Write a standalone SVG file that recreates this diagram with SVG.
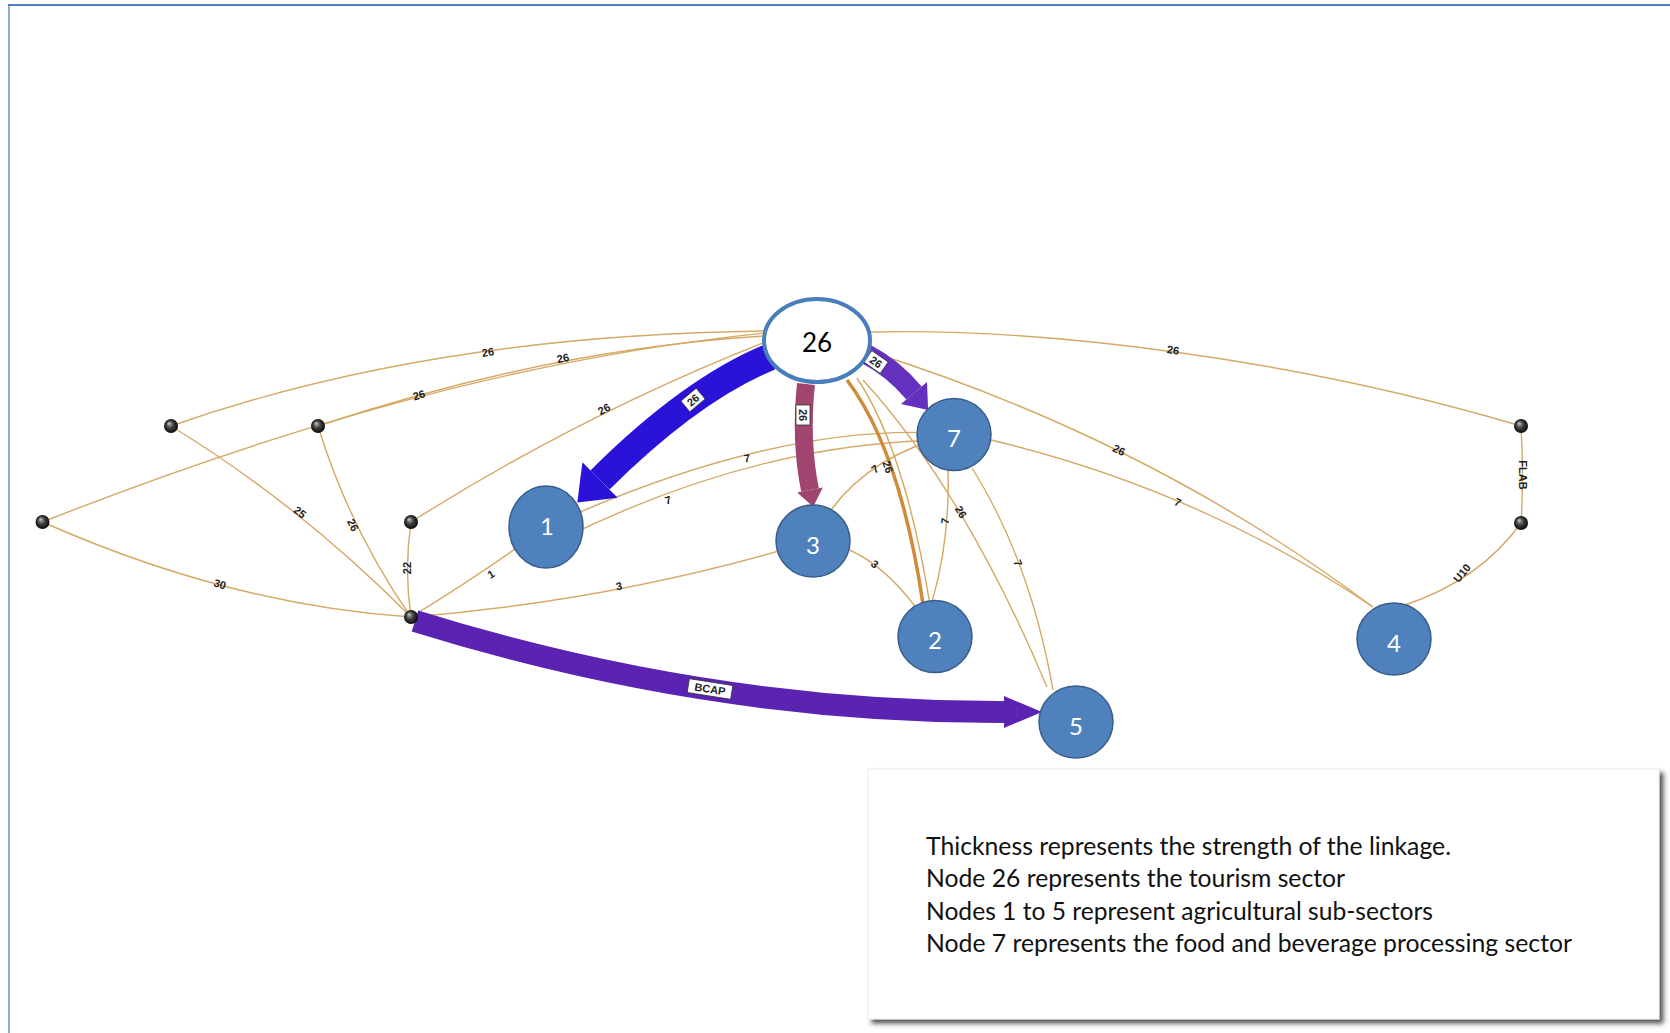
<svg xmlns="http://www.w3.org/2000/svg" width="1670" height="1033" viewBox="0 0 1670 1033">
<style>
.frame{stroke:#4F7FC2;fill:none}
.edge{fill:none;stroke:#D6A865;stroke-width:1.4}
.edge-strong{fill:none;stroke:#CF8A3A;stroke-width:3.5}
.elbl{font-family:"Liberation Sans",Arial,sans-serif;font-size:11px;font-weight:bold;fill:#222;text-anchor:middle;dominant-baseline:central}
.alblbox{fill:#fff;stroke:#333;stroke-width:0.8}
.blue{stroke:#2A12D8;fill:none}
.blue-h{fill:#2A12D8}
.maroon{stroke:#A0456F;fill:none}
.maroon-h{fill:#A0456F}
.purple{stroke:#6430BE;fill:none}
.purple-h{fill:#6430BE}
.violet{stroke:#5A23B2;fill:none}
.violet-h{fill:#5A23B2}
.node{fill:#4F81BD;stroke:#385D8A;stroke-width:1.5}
.nlbl{font-family:Lato,"Open Sans",sans-serif;font-size:24px;fill:#fff;text-anchor:middle}
.hub{fill:#fff;stroke:#4A7EBB;stroke-width:4}
.hlbl{font-family:Lato,"Open Sans",sans-serif;font-size:26px;fill:#000;text-anchor:middle}
.legend{font-family:Lato,"Open Sans",sans-serif;font-size:25px;fill:#111}
</style>
<defs>
<radialGradient id="sphere" cx="50%" cy="50%" r="55%" fx="35%" fy="30%">
<stop offset="0" stop-color="#c8c8c8"/>
<stop offset="0.45" stop-color="#444"/>
<stop offset="1" stop-color="#000"/>
</radialGradient>
<filter id="shadow" x="-5%" y="-5%" width="110%" height="115%">
<feGaussianBlur in="SourceAlpha" stdDeviation="2.5"/>
<feOffset dx="4" dy="4" result="b"/>
<feFlood flood-color="#333" flood-opacity="0.85"/>
<feComposite in2="b" operator="in"/>
<feMerge><feMergeNode/><feMergeNode in="SourceGraphic"/></feMerge>
</filter>
</defs>
<rect x="0" y="0" width="1670" height="1033" fill="#fff"/>
<g id="frame">
<line class="frame" x1="8" y1="5" x2="1670" y2="5" stroke-width="2"/>
<line class="frame" x1="9" y1="4" x2="9" y2="1033" stroke-width="1.3"/>
</g>
<g id="connectors">
<path class="edge" d="M42.5,522 Q230,605 411,617"/>
<path class="edge" d="M42.5,522 C250,440 500,360 765,333"/>
<path class="edge" d="M318,426 C450,382 600,346 765,336"/>
<path class="edge" d="M171,426 Q430,335 765,331"/>
<path class="edge" d="M411,522 Q580,415 765,342"/>
<path class="edge" d="M171,426 Q300,505 411,617"/>
<path class="edge" d="M318,426 Q350,530 411,617"/>
<path class="edge" d="M411,522 Q404,570 411,617"/>
<path class="edge" d="M411,617 Q480,575 546,527"/>
<path class="edge" d="M411,617 Q620,600 813,541"/>
<path class="edge" d="M546,527 Q780,420 954,434"/>
<path class="edge" d="M560,540 Q760,440 954,440"/>
<path class="edge" d="M813,541 Q850,460 954,434"/>
<path class="edge" d="M813,541 Q880,545 935,636"/>
<path class="edge" d="M857,378 Q905,450 930,605"/>
<path class="edge" d="M863,380 Q965,492 1047,687"/>
<path class="edge" d="M972,468 Q1030,560 1053,690"/>
<path class="edge" d="M948,470 Q950,540 932,602"/>
<path class="edge" d="M871,352 Q1150,440 1373,607"/>
<path class="edge" d="M871,332 C1050,328 1300,360 1521,426"/>
<path class="edge" d="M991,440 Q1200,490 1373,607"/>
<path class="edge" d="M1521,523 Q1480,580 1405,605"/>
<path class="edge" d="M1521,426 Q1524,475 1521,523"/>
<path class="edge-strong" d="M847,380 Q900,450 923,604"/>
<path class="blue" stroke-width="27" d="M770,357 Q691,389.5 600,480"/>
<polygon class="blue-h" points="617.6,497.7 577.3,502.6 582.4,462.3"/>
<path class="maroon" stroke-width="18" d="M806,384 Q800,440 810,490"/>
<polygon class="maroon-h" points="822.8,487.5 813.2,506.7 797.2,492.5"/>
<path class="purple" stroke-width="20" d="M866,354 Q893,368 914,393"/>
<polygon class="purple-h" points="927,382.1 928.1,409.9 901,403.9"/>
<path class="violet" stroke-width="22" d="M415,621 Q710,713 1005,712"/>
<polygon class="violet-h" points="1004,696 1042,712 1004,728"/>
<text class="elbl" transform="rotate(18 220 584)" x="220" y="584">30</text>
<text class="elbl" transform="rotate(-16 419 395)" x="419" y="395">26</text>
<text class="elbl" transform="rotate(-12 563 358)" x="563" y="358">26</text>
<text class="elbl" transform="rotate(-9 488 352)" x="488" y="352">26</text>
<text class="elbl" transform="rotate(-29 604 409)" x="604" y="409">26</text>
<text class="elbl" transform="rotate(38 300 512)" x="300" y="512">25</text>
<text class="elbl" transform="rotate(64 353 525)" x="353" y="525">26</text>
<text class="elbl" transform="rotate(-90 407 568)" x="407" y="568">22</text>
<text class="elbl" transform="rotate(-30 491 574)" x="491" y="574">1</text>
<text class="elbl" transform="rotate(-11 619 586)" x="619" y="586">3</text>
<text class="elbl" transform="rotate(-8 747 458)" x="747" y="458">7</text>
<text class="elbl" transform="rotate(-17 668 500)" x="668" y="500">7</text>
<text class="elbl" transform="rotate(-37 875 469)" x="875" y="469">7</text>
<text class="elbl" transform="rotate(71 888 467)" x="888" y="467">26</text>
<text class="elbl" transform="rotate(38 875 564)" x="875" y="564">3</text>
<text class="elbl" transform="rotate(59 961 512)" x="961" y="512">26</text>
<text class="elbl" transform="rotate(-83 945 521)" x="945" y="521">7</text>
<text class="elbl" transform="rotate(70 1018 563)" x="1018" y="563">7</text>
<text class="elbl" transform="rotate(24 1178 502)" x="1178" y="502">7</text>
<text class="elbl" transform="rotate(27 1119 450)" x="1119" y="450">26</text>
<text class="elbl" transform="rotate(8 1173 350)" x="1173" y="350">26</text>
<text class="elbl" transform="rotate(-50 1462 573)" x="1462" y="573">U10</text>
<text class="elbl" transform="rotate(90 1523 475)" x="1523" y="475">FLAB</text>
<g transform="rotate(-40 693 400)"><rect class="alblbox" x="683" y="393" width="20" height="14"/><text class="elbl" x="693" y="400">26</text></g>
<g transform="rotate(90 803 415)"><rect class="alblbox" x="793" y="408" width="20" height="14"/><text class="elbl" x="803" y="415">26</text></g>
<g transform="rotate(35 876 362)"><rect class="alblbox" x="866" y="355" width="20" height="14"/><text class="elbl" x="876" y="362">26</text></g>
<g transform="rotate(9 710 689)"><rect class="alblbox" x="688" y="682" width="44" height="14"/><text class="elbl" x="710" y="689">BCAP</text></g>
</g>
<g id="dot-a"><circle cx="42.5" cy="522" r="7" fill="url(#sphere)"/></g>
<g id="dot-b"><circle cx="171" cy="426" r="7" fill="url(#sphere)"/></g>
<g id="dot-c"><circle cx="318" cy="426" r="7" fill="url(#sphere)"/></g>
<g id="dot-d"><circle cx="411" cy="522" r="7" fill="url(#sphere)"/></g>
<g id="dot-e"><circle cx="411" cy="617" r="7" fill="url(#sphere)"/></g>
<g id="dot-r1"><circle cx="1521" cy="426" r="7" fill="url(#sphere)"/></g>
<g id="dot-r2"><circle cx="1521" cy="523" r="7" fill="url(#sphere)"/></g>
<g id="node-26"><ellipse class="hub" cx="817" cy="340.5" rx="53" ry="41.5"/><text class="hlbl" x="817" y="352">26</text></g>
<g id="node-1"><ellipse class="node" cx="546" cy="527" rx="37" ry="41"/><text class="nlbl" x="547" y="535">1</text></g>
<g id="node-3"><ellipse class="node" cx="813" cy="541" rx="37" ry="36"/><text class="nlbl" x="813" y="554">3</text></g>
<g id="node-7"><ellipse class="node" cx="954" cy="434.5" rx="37" ry="36"/><text class="nlbl" x="954" y="447">7</text></g>
<g id="node-2"><ellipse class="node" cx="935" cy="636.5" rx="37" ry="36"/><text class="nlbl" x="935" y="649">2</text></g>
<g id="node-5"><ellipse class="node" cx="1076" cy="722" rx="37" ry="36"/><text class="nlbl" x="1076" y="735">5</text></g>
<g id="node-4"><ellipse class="node" cx="1394" cy="639" rx="37" ry="36"/><text class="nlbl" x="1394" y="652">4</text></g>
<g id="legend">
<rect x="868" y="769" width="791" height="250" fill="#fff" stroke="#ececec" stroke-width="1" filter="url(#shadow)"/>
<text class="legend" x="926" y="855" textLength="525" lengthAdjust="spacingAndGlyphs">Thickness represents the strength of the linkage.</text>
<text class="legend" x="926" y="887" textLength="419" lengthAdjust="spacingAndGlyphs">Node 26 represents the tourism sector</text>
<text class="legend" x="926" y="920" textLength="507" lengthAdjust="spacingAndGlyphs">Nodes 1 to 5 represent agricultural sub-sectors</text>
<text class="legend" x="926" y="952" textLength="646" lengthAdjust="spacingAndGlyphs">Node 7 represents the food and beverage processing sector</text>
</g>
</svg>
